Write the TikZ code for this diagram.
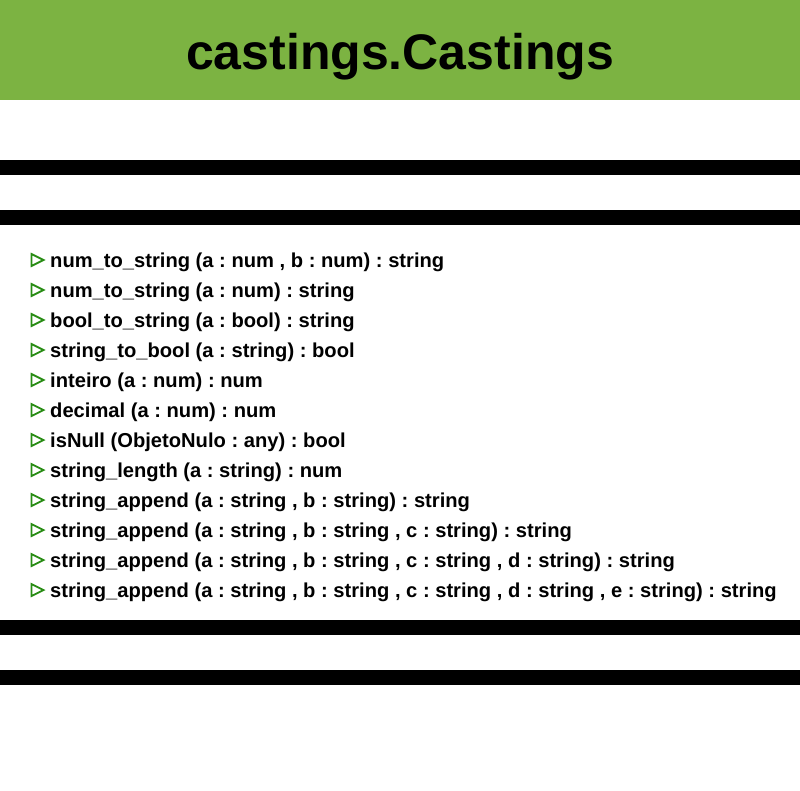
\documentclass[tikz,border=0pt]{standalone}
\usepackage{fontspec}
\setmainfont{Liberation Sans}
\frenchspacing
\definecolor{headgreen}{RGB}{124,179,66}
\definecolor{tri}{RGB}{40,140,20}
\begin{document}
\begin{tikzpicture}[x=1pt,y=-1pt,
  bar/.style={fill=black},
  item/.style={anchor=base west,inner sep=0pt,font=\fontsize{20.15}{24}\selectfont\bfseries},
  marker/.style={draw=tri,line width=1.8pt,line join=miter}]
\useasboundingbox (0,0) rectangle (800,790);
\fill[white] (0,0) rectangle (800,790);
\fill[headgreen] (0,0) rectangle (800,100);
\node[anchor=base,inner sep=0pt,font=\fontsize{50}{60}\selectfont\bfseries] (title) at (400,69) {castings.Castings};
\fill[bar] (0,160) rectangle (800,175);
\fill[bar] (0,210) rectangle (800,225);
\fill[bar] (0,620) rectangle (800,635);
\fill[bar] (0,670) rectangle (800,685);
\foreach \t [count=\i from 0] in {
  {num\_to\_string (a : num , b : num) : string},
  {num\_to\_string (a : num) : string},
  {bool\_to\_string (a : bool) : string},
  {string\_to\_bool (a : string) : bool},
  {inteiro (a : num) : num},
  {decimal (a : num) : num},
  {isNull (ObjetoNulo : any) : bool},
  {string\_length (a : string) : num},
  {string\_append (a : string , b : string) : string},
  {string\_append (a : string , b : string , c : string) : string},
  {string\_append (a : string , b : string , c : string , d : string) : string},
  {string\_append (a : string , b : string , c : string , d : string , e : string) : string}}
{
  \pgfmathsetmacro{\yy}{260+30*\i}
  \draw[marker] (31.5,\yy-6) -- (43.5,\yy) -- (31.5,\yy+6) -- cycle;
  \node[item] (m\i) at (50,\yy+7) {\frenchspacing\t};
}
\end{tikzpicture}
\end{document}
